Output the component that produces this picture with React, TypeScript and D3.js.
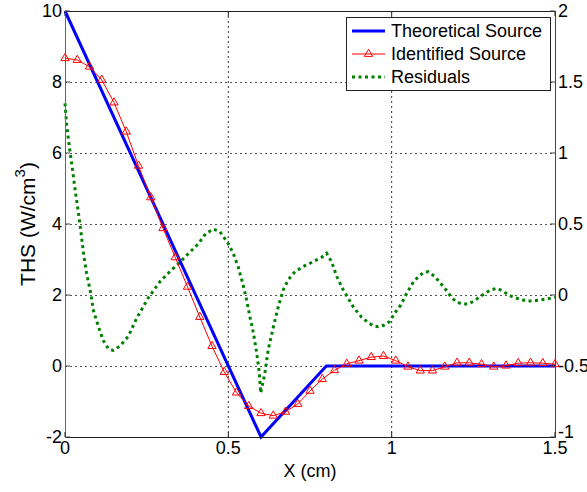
import React from 'react';
import * as d3 from 'd3';

const W = 587;
const H = 492;

const xTicks = [0, 0.5, 1, 1.5];
const xTickLabels = ['0', '0.5', '1', '1.5'];
const yLeftTicks = [-2, 0, 2, 4, 6, 8, 10];
const yLeftTickLabels = ['-2', '0', '2', '4', '6', '8', '10'];
const yRightTicks = [-1, -0.5, 0, 0.5, 1, 1.5, 2];
const yRightTickLabels = ['-1', '-0.5', '0', '0.5', '1', '1.5', '2'];

const theoX = [0, 0.6, 0.8, 1.5];
const theoY = [10, -2, 0, 0];

const identX = d3.range(41).map((i) => i * 0.0375);
const identY = [
  8.67, 8.62, 8.43, 8.06, 7.42, 6.6, 5.64, 4.75, 3.88, 3.06, 2.23, 1.38, 0.56, -0.17, -0.75,
  -1.13, -1.33, -1.4, -1.29, -1.07, -0.7, -0.37, -0.12, 0.06, 0.15, 0.25, 0.28, 0.15, -0.02,
  -0.13, -0.13, -0.02, 0.09, 0.09, 0.05, -0.02, 0.01, 0.08, 0.09, 0.08, 0.05,
];

const residX = [
  0, 0.005, 0.013, 0.022, 0.031, 0.041, 0.049, 0.058, 0.066, 0.079, 0.087, 0.102, 0.117, 0.133,
  0.148, 0.168, 0.194, 0.219, 0.255, 0.291, 0.321, 0.347, 0.377, 0.408, 0.43, 0.454, 0.474,
  0.499, 0.515, 0.53, 0.544, 0.556, 0.566, 0.577, 0.587, 0.595, 0.599, 0.612, 0.622, 0.638,
  0.653, 0.668, 0.683, 0.704, 0.729, 0.76, 0.786, 0.801, 0.816, 0.832, 0.852, 0.882, 0.908,
  0.925, 0.944, 0.959, 0.976, 0.993, 1.01, 1.028, 1.046, 1.067, 1.082, 1.097, 1.112, 1.13,
  1.146, 1.158, 1.171, 1.181, 1.197, 1.214, 1.235, 1.252, 1.268, 1.286, 1.303, 1.321, 1.34,
  1.357, 1.374, 1.393, 1.413, 1.434, 1.454, 1.475, 1.5,
];
const residY = [
  1.35, 1.2, 1.05, 0.9, 0.74, 0.58, 0.44, 0.27, 0.155, 0.01, -0.11, -0.22, -0.32, -0.38, -0.39,
  -0.36, -0.29, -0.165, -0.02, 0.095, 0.165, 0.22, 0.29, 0.36, 0.43, 0.464, 0.447, 0.365,
  0.294, 0.2, 0.082, -0.035, -0.153, -0.27, -0.41, -0.55, -0.69, -0.55, -0.387, -0.223,
  -0.082, 0.035, 0.106, 0.164, 0.2, 0.235, 0.266, 0.294, 0.235, 0.13, 0.035, -0.082, -0.157,
  -0.188, -0.218, -0.223, -0.213, -0.188, -0.125, -0.07, 0.012, 0.094, 0.129, 0.157, 0.164,
  0.134, 0.094, 0.059, 0.023, -0.012, -0.047, -0.063, -0.063, -0.042, -0.016, 0.012, 0.035,
  0.047, 0.03, 0, -0.016, -0.03, -0.042, -0.042, -0.035, -0.028, -0.016,
];

const legendLabels = ['Theoretical Source', 'Identified Source', 'Residuals'];

const FONT = '"Liberation Sans", Arial, sans-serif';

export default function App() {
  const left = 65;
  const right = 555;
  const top = 11;
  const bottom = 437;

  const x = d3.scaleLinear().domain([0, 1.5]).range([left, right]);
  const yL = d3.scaleLinear().domain([-2, 10]).range([bottom, top]);
  const yR = d3.scaleLinear().domain([-1, 2]).range([bottom, top]);

  const theoLine = d3
    .line<number>()
    .x((_, i) => x(theoX[i]))
    .y((d) => yL(d))(theoY);
  const identLine = d3
    .line<number>()
    .x((_, i) => x(identX[i]))
    .y((d) => yL(d))(identY);
  const residLine = d3
    .line<number>()
    .x((_, i) => x(residX[i]))
    .y((d) => yR(d))(residY);

  const tri = d3.symbol().type(d3.symbolTriangle).size(30)();

  const tickLen = 5;

  const lx = 346;
  const ly = 17;
  const lw = 204;
  const lh = 73;
  const rowY = [31, 54, 77];

  return (
    <svg
      width={W}
      height={H}
      style={{ position: 'absolute', left: 0, top: 0, background: '#fff' }}
      fontFamily={FONT}
    >
      <rect x={0} y={0} width={W} height={H} fill="#fff" />
      {/* grid */}
      {xTicks
        .filter((t) => t > 0 && t < 1.5)
        .map((t) => (
          <line
            key={'gx' + t}
            x1={x(t)}
            x2={x(t)}
            y1={top}
            y2={bottom}
            stroke="#333"
            strokeWidth={1}
            strokeDasharray="2,3"
          />
        ))}
      {yLeftTicks
        .filter((t) => t > -2 && t < 10)
        .map((t) => (
          <line
            key={'gy' + t}
            x1={left}
            x2={right}
            y1={Math.round(yL(t)) + 0.5}
            y2={Math.round(yL(t)) + 0.5}
            stroke="#555"
            strokeWidth={1}
            strokeDasharray="2,3"
          />
        ))}

      {/* data */}
      <path d={residLine || ''} fill="none" stroke="#008000" strokeWidth={3} strokeDasharray="3,3.5" />
      <path d={theoLine || ''} fill="none" stroke="#0000ff" strokeWidth={3} />
      <path d={identLine || ''} fill="none" stroke="#ff0000" strokeWidth={1} />
      {identY.map((v, i) => (
        <path
          key={'m' + i}
          d={tri || ''}
          transform={`translate(${x(identX[i])},${yL(v)})`}
          fill="none"
          stroke="#ff0000"
          strokeWidth={1}
        />
      ))}

      {/* frame */}
      <line x1={left} x2={right} y1={top + 0.5} y2={top + 0.5} stroke="#222" />
      <line x1={left} x2={right} y1={bottom + 0.5} y2={bottom + 0.5} stroke="#222" />
      <line x1={left + 0.5} x2={left + 0.5} y1={top} y2={bottom + 1} stroke="#666" />
      <line x1={right + 0.5} x2={right + 0.5} y1={top} y2={bottom + 1} stroke="#444" />

      {/* ticks */}
      {xTicks.map((t) => (
        <g key={'xt' + t}>
          <line x1={x(t)} x2={x(t)} y1={bottom} y2={bottom - tickLen} stroke="#222" />
          <line x1={x(t)} x2={x(t)} y1={top} y2={top + tickLen} stroke="#222" />
        </g>
      ))}
      {yLeftTicks.map((t) => (
        <line key={'ylt' + t} x1={left} x2={left + tickLen} y1={yL(t)} y2={yL(t)} stroke="#444" />
      ))}
      {yRightTicks.map((t) => (
        <line key={'yrt' + t} x1={right} x2={right - tickLen} y1={yR(t)} y2={yR(t)} stroke="#444" />
      ))}

      {/* tick labels */}
      {xTicks.map((t, i) => (
        <text key={'xl' + t} x={x(t)} y={454} fontSize={18} textAnchor="middle" fill="#000">
          {xTickLabels[i]}
        </text>
      ))}
      {yLeftTicks.map((t, i) => (
        <text
          key={'yll' + t}
          x={62}
          y={yL(t)}
          fontSize={18}
          textAnchor="end"
          dominantBaseline="central"
          fill="#000"
        >
          {yLeftTickLabels[i]}
        </text>
      ))}
      {yRightTicks.map((t, i) => (
        <text
          key={'yrl' + t}
          x={558}
          y={t === -1 ? yR(t) - 5 : yR(t)}
          fontSize={18}
          textAnchor="start"
          dominantBaseline="central"
          fill="#000"
        >
          {yRightTickLabels[i]}
        </text>
      ))}

      {/* axis labels */}
      <text x={310} y={477} fontSize={18} textAnchor="middle" fill="#000">
        X (cm)
      </text>
      <text
        transform={`translate(35,${(top + bottom) / 2}) rotate(-90)`}
        fontSize={21}
        textAnchor="middle"
        fill="#000"
      >
        THS (W/cm
        <tspan dy={-10} fontSize={15}>
          3
        </tspan>
        <tspan dy={10}>)</tspan>
      </text>

      {/* legend */}
      <rect x={lx + 0.5} y={ly + 0.5} width={lw} height={lh} fill="#fff" stroke="#222" strokeWidth={1} />
      <line x1={352} x2={385} y1={rowY[0]} y2={rowY[0]} stroke="#0000ff" strokeWidth={3} />
      <line x1={352} x2={385} y1={rowY[1]} y2={rowY[1]} stroke="#ff0000" strokeWidth={1} />
      <path
        d={tri || ''}
        transform={`translate(368.5,${rowY[1]})`}
        fill="none"
        stroke="#ff0000"
        strokeWidth={1}
      />
      <line
        x1={352}
        x2={385}
        y1={rowY[2]}
        y2={rowY[2]}
        stroke="#008000"
        strokeWidth={3}
        strokeDasharray="3,3.5"
      />
      {legendLabels.map((l, i) => (
        <text
          key={l}
          x={391}
          y={rowY[i]}
          fontSize={18}
          dominantBaseline="central"
          fill="#000"
        >
          {l}
        </text>
      ))}
    </svg>
  );
}
